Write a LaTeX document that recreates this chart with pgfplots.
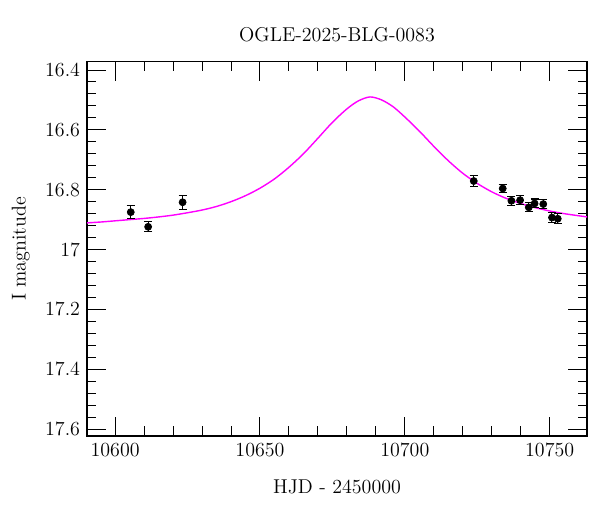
\documentclass[border=0pt]{standalone}
\usepackage{fontspec}
\usepackage{pgfplots}
\pgfplotsset{compat=1.18}

\definecolor{model}{RGB}{255,0,255}

\begin{document}
\fontsize{11.4}{13.6}\selectfont
\begin{tikzpicture}
\begin{axis}[
name=ax,
scale only axis,
width=285pt, height=213.2pt,
xmin=10590.3, xmax=10762.9,
ymin=16.373, ymax=17.623,
y dir=reverse,
xtick={10600,10650,10700,10750},
minor x tick num=4,
ytick={16.4,16.6,16.8,17,17.2,17.4,17.6},
yticklabels={16.4,16.6,16.8,17,17.2,17.4,17.6},
minor y tick num=4,
scaled x ticks=false,
/pgf/number format/1000 sep={},
/pgf/number format/assume math mode=true,
tick align=inside,
major tick length=10.8pt,
minor tick length=5.4pt,
tick style={black, line width=0.55pt},
axis line style={line width=0.6pt},
title={OGLE-2025-BLG-0083},
title style={yshift=1.5pt},
xlabel={HJD - 2450000},
ylabel={I magnitude},
xlabel style={yshift=-5pt},
ylabel style={yshift=1pt},
]

% model light curve
\addplot[color=model, line width=0.8pt, smooth, no marks] coordinates {
(10590,16.911)(10595,16.908)(10600,16.904)(10605,16.900)(10610,16.896)
(10615,16.891)(10620,16.885)(10625,16.877)(10630,16.868)(10635,16.856)
(10640,16.840)(10645,16.820)(10650,16.795)(10655,16.764)(10660,16.725)
(10665,16.680)(10670,16.628)(10675,16.575)(10680,16.530)(10684,16.503)
(10688,16.490)(10692,16.500)(10696,16.523)(10700,16.557)(10705,16.604)
(10710,16.655)(10715,16.703)(10720,16.745)(10725,16.779)(10730,16.807)
(10735,16.829)(10740,16.846)(10745,16.860)(10750,16.871)(10755,16.880)
(10760,16.887)(10763,16.891)
};

% OGLE data
\addplot[only marks, mark=*, mark size=2pt, color=black,
  error bars/.cd, y dir=both, y explicit,
  error bar style={line width=0.6pt},
  error mark options={rotate=90, mark size=2.3pt, line width=0.6pt}]
coordinates {
(10605.4,16.875) +- (0,0.022)
(10611.4,16.924) +- (0,0.017)
(10623.3,16.842) +- (0,0.023)
(10723.8,16.771) +- (0,0.017)
(10733.8,16.796) +- (0,0.014)
(10736.8,16.837) +- (0,0.015)
(10739.8,16.835) +- (0,0.015)
(10742.8,16.859) +- (0,0.015)
(10744.8,16.846) +- (0,0.015)
(10747.8,16.848) +- (0,0.014)
(10750.8,16.893) +- (0,0.016)
(10752.8,16.897) +- (0,0.016)
};

\end{axis}
\path (ax.south west) ++(-49.6pt,-43.3pt) coordinate (A);
\path (ax.north east) ++(7.4pt,35.3pt) coordinate (B);
\pgfresetboundingbox
\path (A) rectangle (B);
\end{tikzpicture}
\end{document}
